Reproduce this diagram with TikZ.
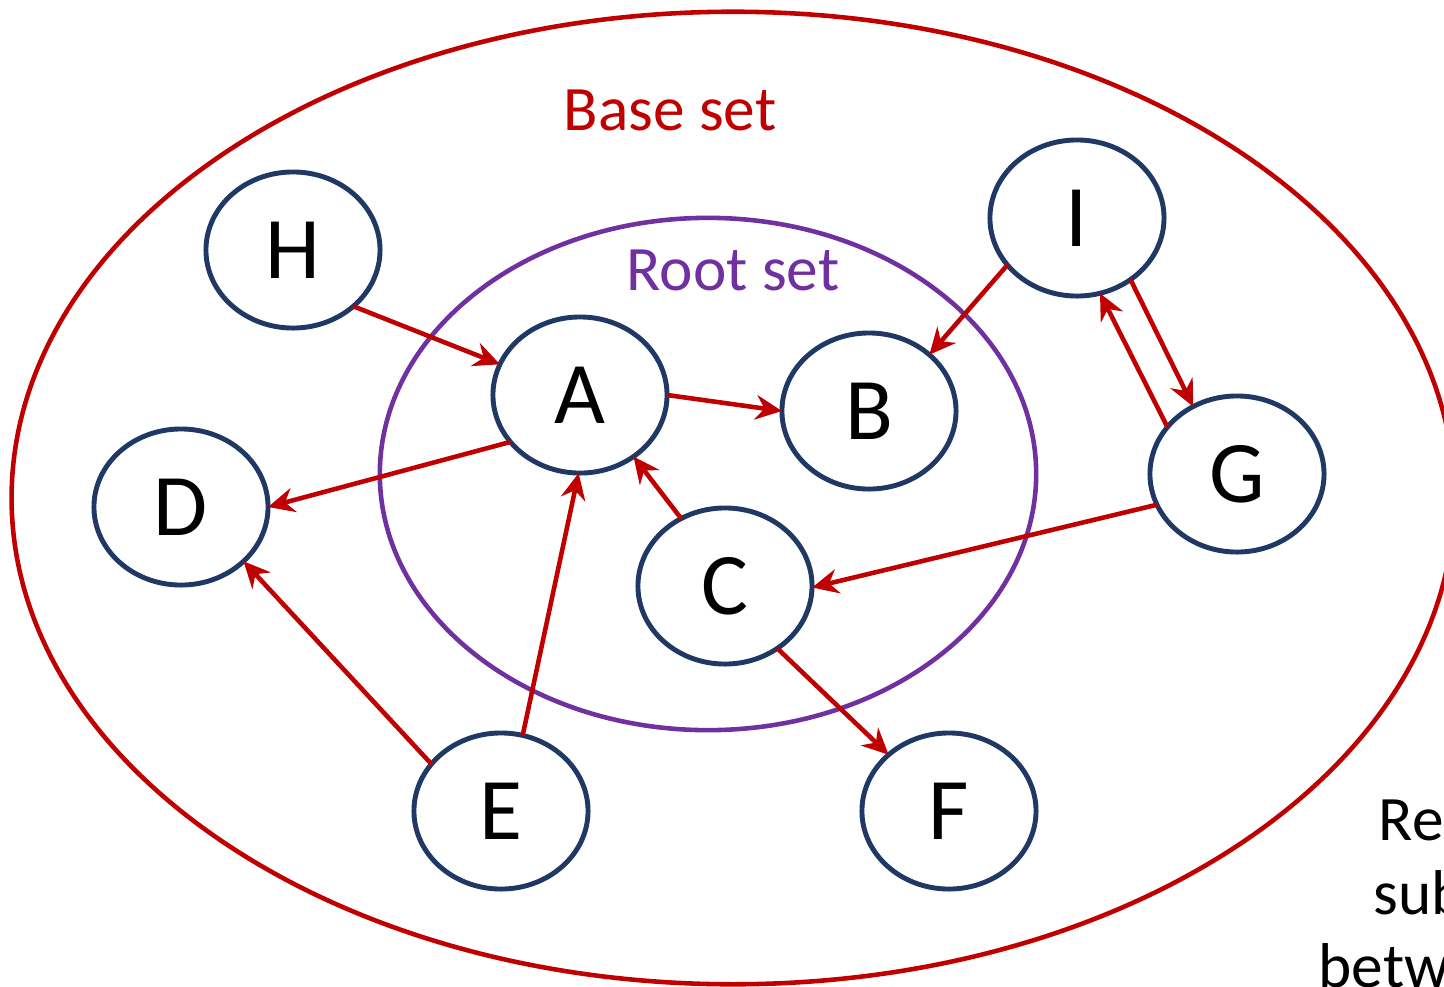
\documentclass[tikz,border=0pt]{standalone}
\usepackage{fontspec}
\setmainfont{Carlito}
\usetikzlibrary{arrows.meta,shapes.geometric}
\definecolor{basered}{HTML}{C00000}
\definecolor{rootpurple}{HTML}{7030A0}
\definecolor{nodenavy}{HTML}{1F3864}
\begin{document}
\begin{tikzpicture}[x=0.01cm,y=-0.01cm,
  vertex/.style={ellipse,draw=nodenavy,line width=1.4pt,fill=white,
    minimum width=1.74cm,minimum height=1.56cm,inner sep=0pt,outer sep=0pt,
    font=\fontsize{25}{30}\selectfont},
  link/.style={draw=basered,line width=1.3pt,
    -{Stealth[length=7.5pt,width=7pt,inset=2.5pt]}},
  setlabel/.style={anchor=base,font=\fontsize{18}{22}\selectfont},
  sidetext/.style={anchor=base west,inner sep=0pt,font=\fontsize{18}{22}\selectfont}]
  \useasboundingbox (0,0) rectangle (1444,987);
  \fill[white] (0,0) rectangle (1444,987);

  % base set and root set
  \draw[basered,line width=1.3pt] (733,498) ellipse [x radius=7.21cm,y radius=4.86cm];
  \draw[rootpurple,line width=1.3pt] (708,474) ellipse [x radius=3.28cm,y radius=2.56cm];
  \node[setlabel,text=basered] (baselbl) at (670,130) {Base set};
  \node[setlabel,text=rootpurple] (rootlbl) at (733,290) {Root set};

  % pages
  \node[vertex] (H) at (293,250) {H};
  \node[vertex] (I) at (1077,218) {I};
  \node[vertex] (A) at (580,395) {A};
  \node[vertex] (B) at (869,411) {B};
  \node[vertex] (D) at (181,507) {D};
  \node[vertex] (G) at (1237,474) {G};
  \node[vertex] (C) at (725,586) {C};
  \node[vertex] (E) at (501,811) {E};
  \node[vertex] (F) at (949,811) {F};

  % links
  \draw[link] (H.-43) -- (A.159);
  \draw[link] (A.0) -- (B.180);
  \draw[link] (A.214) -- (D.0);
  \draw[link] (I.214) -- (B.43);
  \draw[link] (I.311) -- (G.123);
  \draw[link] (G.146) -- (I.287);
  \draw[link] (C.123) -- (A.311);
  \draw[link] (G.201) -- (C.-1);
  \draw[link] (C.310) -- (F.137);
  \draw[link] (E.74) -- (A.269);
  \draw[link] (E.146) -- (D.319);

  % caption running off the right edge
  \node[sidetext] (cap1) at (1378,840) {Res};
  \node[sidetext] (cap2) at (1373,914) {sub};
  \node[sidetext] (cap3) at (1318,987) {betw};
\end{tikzpicture}
\end{document}
